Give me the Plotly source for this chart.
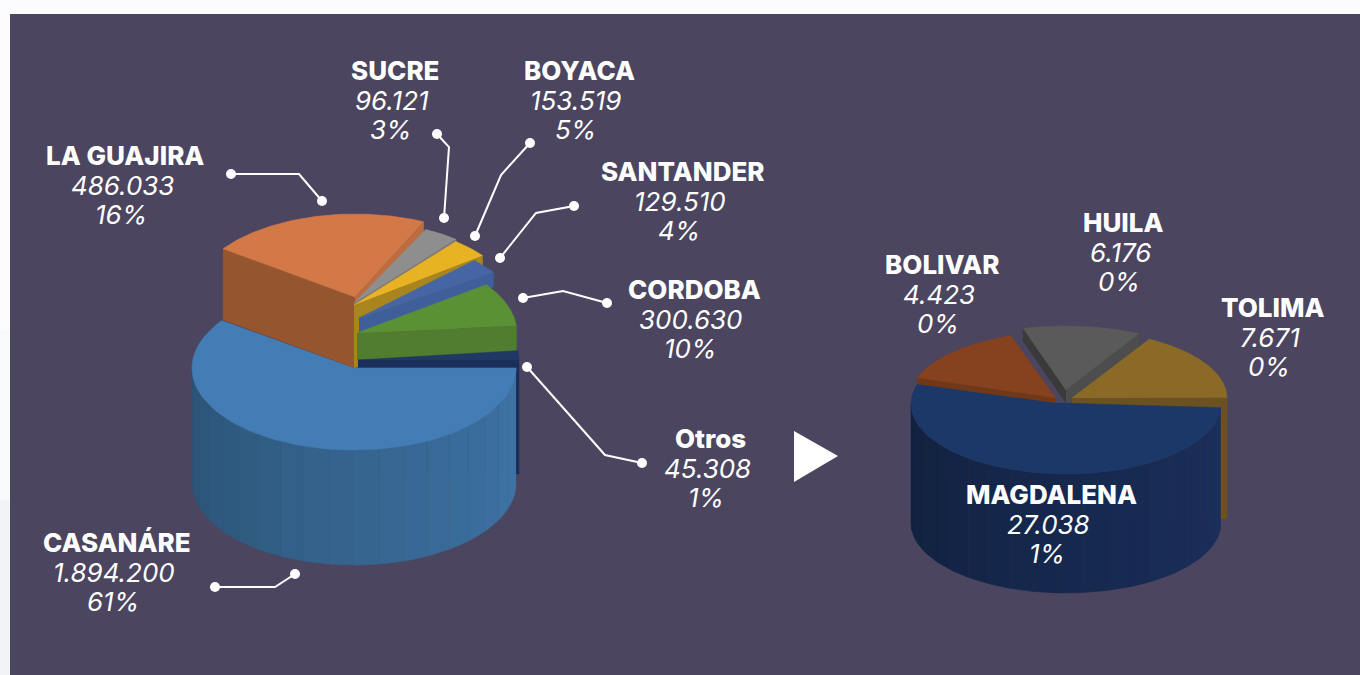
import numpy as np
import plotly.graph_objects as go

# ---------- data ----------
left_names = ["CASANÁRE", "LA GUAJIRA", "SUCRE", "BOYACA", "SANTANDER", "CORDOBA", "Otros"]
left_values = [1894200, 486033, 96121, 153519, 129510, 300630, 45308]
right_names = ["MAGDALENA", "BOLIVAR", "HUILA", "TOLIMA"]
right_values = [27038, 4423, 6176, 7671]
TOTAL = sum(left_values)

# ---------- styling / view of the two 3D pies ----------
PANEL = "#4B4560"
PAGE = "#FCFCFE"
left_view = {
    "LA GUAJIRA": dict(start=215.5, gain=1.412, c=(355, 297), r=(162, 83), h=71, top="#D37948", face="#95562F", edge="#BD6C40", faces="both"),
    "SUCRE": dict(start=296, gain=1.17, c=(354, 303), r=(162, 82), h=5, top="#8E8E8E", face="#7F7A78", faces="end"),
    "BOYACA": dict(start=309, gain=0.787, c=(354, 305), r=(161, 82), h=63, top="#E8B323", face="#A9851E", faces="end"),
    "SANTANDER": dict(start=315, gain=0.733, c=(359, 318), r=(162, 82), h=15, top="#4565A5", face="#3F5F9A", faces="end"),
    "CORDOBA": dict(start=323.5, gain=0.903, c=(357, 333), r=(160, 82), h=27, top="#5B9135", face="#507D30", faces="end"),
    "Otros": dict(start=353, gain=1.35, c=(358, 360), r=(161, 82), h=114, top="#1F3864", face="#1A2F5A", faces="end"),
    "CASANÁRE": dict(start=0, gain=0.981, c=(354, 368), r=(162, 82), h=115, top="#447DB5", side=("#3F74A6", "#2A5273"), faces="none"),
}
right_view = {
    "BOLIVAR": dict(start=198, gain=1.49, c=(1062, 398), r=(152, 66), apex=(1056, 398), h=100, top="#86421F", face="#6F3819", faces="start"),
    "HUILA": dict(start=254, gain=0.9, c=(1066, 390), r=(155, 64), h=13, top="#5A5A5A", face="#3A3A3A", edge="#4D4D4D", faces="both"),
    "TOLIMA": dict(start=300, gain=0.98, c=(1072, 398), r=(155, 68), h=121, top="#8A6A26", face="#6B5220", faces="end"),
    "MAGDALENA": dict(start=3, gain=0.9, c=(1066, 404), r=(155, 70), apex=(1056, 403), h=119, top="#1C3869", side=("#1A2F5C", "#11203D"), faces="none"),
}

label_pos = {  # centre x, y of the three rows
    "SUCRE": (395, 70.5), "BOYACA": (579, 70.5), "SANTANDER": (683, 171.5), "LA GUAJIRA": (125, 155.5),
    "CORDOBA": (694, 289.5), "Otros": (710, 438.5), "CASANÁRE": (117, 542.5),
    "MAGDALENA": (1051, 494.5), "BOLIVAR": (942, 264.5), "HUILA": (1123, 222.5), "TOLIMA": (1273, 307.5),
}
leaders = [
    ([231, 299, 322], [174, 174, 201]),
    ([437, 449, 444], [134, 147, 218]),
    ([530, 501, 475], [143, 175, 236]),
    ([574, 536, 500], [206, 213, 258]),
    ([607, 563, 523], [303, 291, 298]),
    ([642, 605, 527], [463, 455, 367]),
    ([215, 275, 295], [587, 587, 574]),
]

fig = go.Figure()


def poly(xs, ys, color, line=None):
    fig.add_trace(go.Scatter(x=list(xs), y=list(ys), mode="lines", fill="toself", fillcolor=color,
                             line=dict(color=line or color, width=0.6), hoverinfo="skip", showlegend=False))


def mix(a, b, f):
    ca = [int(a[i:i + 2], 16) for i in (1, 3, 5)]
    cb = [int(b[i:i + 2], 16) for i in (1, 3, 5)]
    return "#%02X%02X%02X" % tuple(round(x + (y - x) * f) for x, y in zip(ca, cb))


def wedge(share, v):
    a0 = v["start"]
    a1 = min(a0 + share * 360 * v["gain"], 360)
    cx, cy = v["c"]
    rx, ry = v["r"]
    ax, ay = v.get("apex", v["c"])
    h = v["h"]

    def pt(a):
        t = np.radians(a)
        return cx + rx * np.cos(t), cy + ry * np.sin(t)

    # outer wall, only the part facing the viewer
    if "side" in v and a0 < 180:
        edges = np.append(np.arange(a0, min(a1, 180), 9.0), min(a1, 180))
        for s, e in zip(edges[:-1], edges[1:]):
            ts = np.linspace(s, e, 6)
            px, py = pt(ts)
            f = min(1, ((s + e) / 2 / 180) ** 1.1)
            poly(np.r_[px, px[::-1]], np.r_[py, py[::-1] + h], mix(v["side"][0], v["side"][1], f))
    # radial faces
    if v["faces"] in ("both", "start"):
        x0, y0 = pt(a0)
        poly([ax, x0, x0, ax], [ay, y0, y0 + h, ay + h], v["face"])
    if v["faces"] in ("both", "end"):
        x1, y1 = pt(a1)
        poly([ax, x1, x1, ax], [ay, y1, y1 + h, ay + h], v.get("edge", v["face"]))
    # top
    px, py = pt(np.linspace(a0, a1, 90))
    poly(np.r_[ax, px], np.r_[ay, py], v["top"])


left_map = dict(zip(left_names, left_values))
right_map = dict(zip(right_names, right_values))
for name, v in left_view.items():
    wedge(left_map[name] / sum(left_values), v)
for name, v in right_view.items():
    wedge(right_map[name] / sum(right_values), v)

# leader lines with end dots
for xs, ys in leaders:
    fig.add_trace(go.Scatter(x=xs, y=ys, mode="lines", line=dict(color="white", width=2),
                             hoverinfo="skip", showlegend=False))
    fig.add_trace(go.Scatter(x=[xs[0], xs[-1]], y=[ys[0], ys[-1]], mode="markers",
                             marker=dict(color="white", size=10), hoverinfo="skip", showlegend=False))

# labels
names = left_names + right_names
values = left_values + right_values
fam = "Inter, 'Open Sans', sans-serif"
for n, val in zip(names, values):
    x, y = label_pos[n]
    fig.add_annotation(x=x, y=y, text=n, showarrow=False, xanchor="center", yanchor="middle",
                       font=dict(family=fam, size=26, color="white", weight=800))
    fig.add_annotation(x=x - 3, y=y + 29.5, text=f"{val:,}".replace(",", "."), showarrow=False,
                       xanchor="center", yanchor="middle",
                       font=dict(family=fam, size=26, color="white", style="italic"))
    fig.add_annotation(x=x - 4, y=y + 59, text=f"{round(val / TOTAL * 100)}%", showarrow=False,
                       xanchor="center", yanchor="middle",
                       font=dict(family=fam, size=26, color="white", style="italic"))

fig.update_layout(
    width=1360, height=675, margin=dict(l=0, r=0, t=0, b=0),
    paper_bgcolor=PAGE, plot_bgcolor=PAGE, showlegend=False,
    xaxis=dict(range=[0, 1360], visible=False, fixedrange=True),
    yaxis=dict(range=[675, 0], visible=False, fixedrange=True),
    shapes=[
        dict(type="rect", xref="x", yref="y", x0=0, x1=10, y0=330, y1=500,
             fillcolor="#F8F9FB", line_width=0, layer="below"),
        dict(type="rect", xref="x", yref="y", x0=0, x1=10, y0=500, y1=675,
             fillcolor="#F1F3F7", line_width=0, layer="below"),
        dict(type="rect", xref="x", yref="y", x0=10, x1=1360, y0=14, y1=675,
             fillcolor=PANEL, line_width=0, layer="below"),
        dict(type="path", xref="x", yref="y", path="M794,431 L838,456 L794,482 Z",
             fillcolor="white", line_width=0),
    ],
)
fig.write_html("out.html", config=dict(displayModeBar=False),
               post_script="document.body.style.margin='0';document.body.style.overflow='hidden';")
